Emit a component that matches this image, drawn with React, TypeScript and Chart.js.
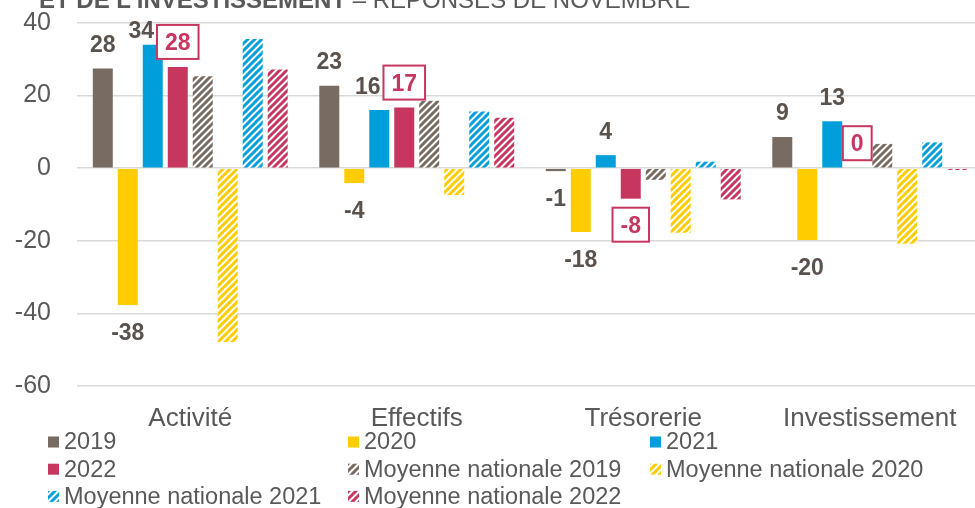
import React, { useEffect, useRef } from 'react';
import { Chart, registerables } from 'chart.js';

Chart.register(...registerables);

// ---------- DATA ----------
const categories = ['Activité', 'Effectifs', 'Trésorerie', 'Investissement'];
const yTicks = [40, 20, 0, -20, -40, -60];

const series2019 = [27.5, 22.7, -0.8, 8.6];
const series2020 = [-37.7, -4.1, -17.6, -19.8];
const series2021 = [34.0, 16.0, 3.6, 12.9];
const series2022 = [27.9, 16.7, -8.4, 0];
const national2019 = [25.3, 18.6, -3.2, 6.7];
const national2020 = [-47.9, -7.4, -17.8, -20.8];
const national2021 = [35.6, 15.6, 1.8, 7.1];
const national2022 = [27.2, 13.9, -8.6, -0.5];

const seriesNames = [
  '2019',
  '2020',
  '2021',
  '2022',
  'Moyenne nationale 2019',
  'Moyenne nationale 2020',
  'Moyenne nationale 2021',
  'Moyenne nationale 2022',
];

const titleBold = "ET DE L'INVESTISSEMENT";
const titleRest = ' – RÉPONSES DE NOVEMBRE';

// ---------- STYLE ----------
const FONT = '"Liberation Sans", Arial, Helvetica, sans-serif';
const C2019 = '#776B62';
const C2020 = '#FFCC00';
const C2021 = '#009FDC';
const C2022 = '#C7365F';
const AXIS_TEXT = '#595959';
const LABEL_TEXT = '#5A524D';
const GRID = '#D9D9D9';

function makeHatch(color: string): CanvasPattern | string {
  const size = 7;
  const c = document.createElement('canvas');
  c.width = size;
  c.height = size;
  const ctx = c.getContext('2d');
  if (!ctx) return color;
  ctx.fillStyle = '#ffffff';
  ctx.fillRect(0, 0, size, size);
  ctx.strokeStyle = color;
  ctx.lineWidth = 3;
  ctx.beginPath();
  for (let k = -1; k <= 1; k++) {
    ctx.moveTo(k * size - 1, size + 1);
    ctx.lineTo(k * size + size + 1, -1);
  }
  ctx.stroke();
  const p = ctx.createPattern(c, 'repeat');
  return p || color;
}

const LABEL_FONT_SIZE = 23;
const CAP = 0.716 * LABEL_FONT_SIZE;
const BOX_H = 36;
const BOX_PAD_X = 9;

const valueLabelPlugin = {
  id: 'valueLabels',
  afterDatasetsDraw(chart: any) {
    const ctx: CanvasRenderingContext2D = chart.ctx;
    const area = chart.chartArea;
    ctx.save();
    ctx.font = `bold ${LABEL_FONT_SIZE}px ${FONT}`;
    ctx.textAlign = 'center';
    ctx.textBaseline = 'alphabetic';

    const boxes: any[] = [];
    chart.data.datasets.forEach((ds: any, di: number) => {
      if (ds.valueLabel !== 'boxed') return;
      const meta = chart.getDatasetMeta(di);
      meta.data.forEach((bar: any, i: number) => {
        const v = ds.data[i];
        const text = String(Math.round(v));
        const w = ctx.measureText(text).width + 2 * BOX_PAD_X;
        const top = Math.min(bar.y, bar.base);
        const bottom = Math.max(bar.y, bar.base);
        const cy = v >= 0 ? top - 7 - BOX_H / 2 : bottom + 8 + BOX_H / 2;
        boxes[i] = { x: bar.x - w / 2, y: cy - BOX_H / 2, w, h: BOX_H, cx: bar.x, cy, text, color: ds.labelColor };
      });
    });

    chart.data.datasets.forEach((ds: any, di: number) => {
      if (ds.valueLabel !== 'plain') return;
      const meta = chart.getDatasetMeta(di);
      meta.data.forEach((bar: any, i: number) => {
        const v = ds.data[i];
        const text = String(Math.round(v));
        const w = ctx.measureText(text).width;
        const top = Math.min(bar.y, bar.base);
        const bottom = Math.max(bar.y, bar.base);
        let baseline = v >= 0 ? top - 16.5 : bottom + 18.5 + CAP;
        if (baseline - CAP < area.top - 1) baseline = area.top - 1 + CAP;
        let cx = bar.x;
        const b = boxes[i];
        if (b && bar.x < b.cx) {
          const l = cx - w / 2, r = cx + w / 2, t = baseline - CAP, bt = baseline;
          if (r > b.x && l < b.x + b.w && bt > b.y && t < b.y + b.h) {
            cx = b.x - 2 - w / 2;
          }
        }
        ctx.fillStyle = LABEL_TEXT;
        ctx.fillText(text, cx, baseline);
      });
    });

    boxes.forEach((b) => {
      if (!b) return;
      ctx.fillStyle = '#ffffff';
      ctx.fillRect(b.x, b.y, b.w, b.h);
      ctx.strokeStyle = b.color;
      ctx.lineWidth = 2;
      ctx.strokeRect(b.x + 1, b.y + 1, b.w - 2, b.h - 2);
      ctx.fillStyle = b.color;
      ctx.fillText(b.text, b.cx, b.cy + CAP / 2);
    });
    ctx.restore();
  },
};

const LEGEND_COLS = [48, 348, 650];
const LEGEND_ROWS = [442, 469.2, 496.4];

const legendPlugin = {
  id: 'gridLegend',
  afterDraw(chart: any) {
    const ctx: CanvasRenderingContext2D = chart.ctx;
    ctx.save();
    ctx.font = `23.5px ${FONT}`;
    ctx.textAlign = 'left';
    ctx.textBaseline = 'middle';
    chart.data.datasets.forEach((ds: any, i: number) => {
      const col = i % 3;
      const row = Math.floor(i / 3);
      const x = LEGEND_COLS[col];
      const y = LEGEND_ROWS[row];
      ctx.fillStyle = ds.backgroundColor;
      ctx.fillRect(x, y - 5.5, 11, 11);
      ctx.fillStyle = AXIS_TEXT;
      ctx.fillText(ds.label, x + 16, y + 1);
    });
    ctx.restore();
  },
};

const titlePlugin = {
  id: 'cutTitle',
  afterDraw(chart: any) {
    const ctx: CanvasRenderingContext2D = chart.ctx;
    ctx.save();
    ctx.textAlign = 'left';
    ctx.textBaseline = 'alphabetic';
    ctx.fillStyle = AXIS_TEXT;
    ctx.font = `bold 24px ${FONT}`;
    ctx.fillText(titleBold, 39, 8);
    const w = ctx.measureText(titleBold).width;
    ctx.font = `24px ${FONT}`;
    ctx.fillText(titleRest, 39 + w, 8);
    ctx.restore();
  },
};

export default function App() {
  const ref = useRef<HTMLCanvasElement | null>(null);

  useEffect(() => {
    const canvas = ref.current;
    if (!canvas) return;
    const seriesData = [series2019, series2020, series2021, series2022, national2019, national2020, national2021, national2022];
    const fills: any[] = [C2019, C2020, C2021, C2022, makeHatch(C2019), makeHatch(C2020), makeHatch(C2021), makeHatch(C2022)];
    const modes = ['plain', 'plain', 'plain', 'boxed', 'none', 'none', 'none', 'none'];
    const datasets: any[] = seriesData.map((d, i) => ({
      label: seriesNames[i],
      data: d,
      backgroundColor: fills[i],
      borderWidth: 0,
      valueLabel: modes[i],
      labelColor: C2022,
      barPercentage: 0.8,
      categoryPercentage: 0.8826,
    }));

    const chart = new Chart(canvas, {
      type: 'bar',
      data: { labels: categories, datasets },
      options: {
        animation: false,
        responsive: false,
        devicePixelRatio: 1,
        layout: { padding: { top: 23, right: 7, left: 0, bottom: 0 } },
        plugins: {
          legend: { display: false },
          tooltip: { enabled: false },
          title: { display: false },
        },
        scales: {
          x: {
            grid: { display: false },
            border: { display: false },
            ticks: {
              color: AXIS_TEXT,
              font: { family: FONT, size: 26 },
              padding: 9,
              maxRotation: 0,
              autoSkip: false,
            },
            afterFit: (scale: any) => {
              scale.height = 122;
              scale.paddingLeft = 0;
              scale.paddingRight = 0;
            },
          },
          y: {
            min: yTicks[yTicks.length - 1],
            max: yTicks[0],
            grid: { color: GRID, lineWidth: 1.5, drawTicks: false },
            border: { display: false },
            ticks: {
              stepSize: 20,
              color: AXIS_TEXT,
              font: { family: FONT, size: 25 },
              padding: 26,
              callback: (v: any) => String(v),
            },
            afterFit: (scale: any) => {
              scale.width = 77;
              scale.paddingTop = 0;
              scale.paddingBottom = 0;
            },
          },
        },
      } as any,
      plugins: [valueLabelPlugin, legendPlugin, titlePlugin],
    });
    return () => chart.destroy();
  }, []);

  return (
    <div style={{ position: 'absolute', left: 0, top: 0, width: 975, height: 508, overflow: 'hidden', background: '#ffffff' }}>
      <canvas ref={ref} width={990} height={508} style={{ display: 'block', width: 990, height: 508 }} />
    </div>
  );
}
